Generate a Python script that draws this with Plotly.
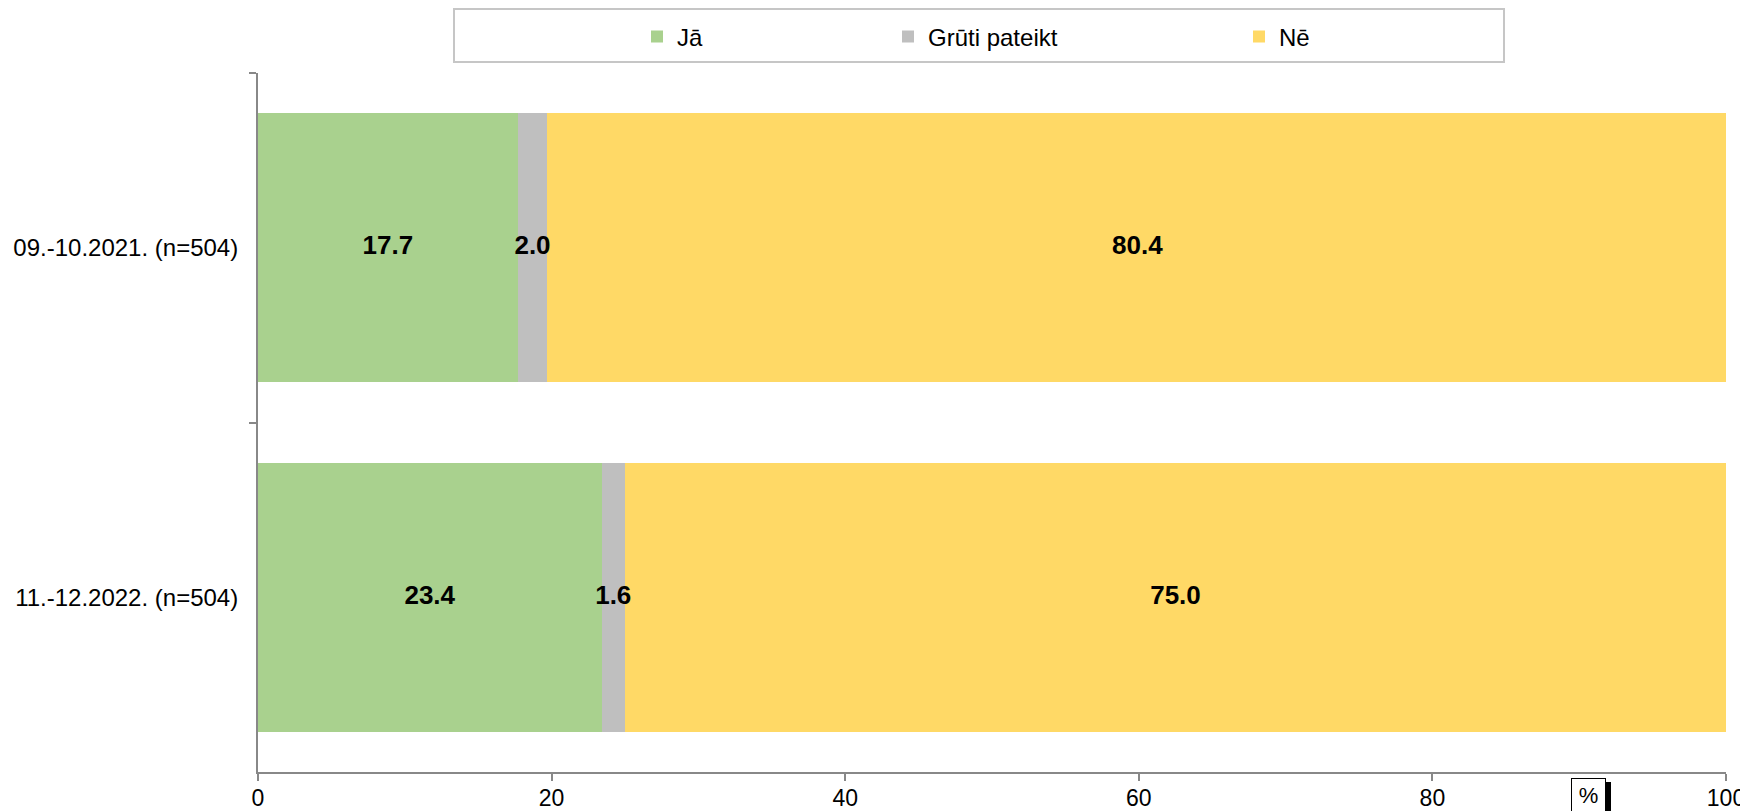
import plotly.graph_objects as go

categories = ["09.-10.2021. (n=504)", "11.-12.2022. (n=504)"]
series_names = ["Jā", "Grūti pateikt", "Nē"]
ja = [17.7, 23.4]
gruti = [2.0, 1.6]
ne = [80.4, 75.0]
x_ticks = [0, 20, 40, 60, 80, 100]
colors = ["#a9d18e", "#bfbfbf", "#ffd966"]

# The page body has an 8px margin; the figure is sized to end at the window edge.
OFF = 8
W, H = 1748 - OFF, 811 - OFF
PL, PR, PT, PB = 258, 1726, 73, 772   # plot area in window pixels
L, T = PL - OFF, PT - OFF
R = W - (PR - OFF)
B = H - (PB - OFF)
pw = PR - PL
ph = PB - PT

def px_x(p):
    return (p - PL) / pw

def px_y(p):
    return (PB - p) / ph

FONT = "Liberation Sans, Arial, sans-serif"

fig = go.Figure()
legend_names = ["legend", "legend2", "legend3"]
series_vals = [ja, gruti, ne]
for name, vals, col, lg in zip(series_names, series_vals, colors, legend_names):
    fig.add_trace(go.Bar(
        y=categories, x=vals, name=name, orientation="h",
        marker=dict(color=col, line=dict(width=0)),
        legend=lg, hoverinfo="skip", textposition="none",
    ))

# value labels drawn on top of all bars, centred in each segment
for i, vals in enumerate(series_vals):
    base = [sum(series_vals[k][j] for k in range(i)) for j in range(len(categories))]
    mids = [b + v / 2 for b, v in zip(base, vals)]
    fig.add_trace(go.Scatter(
        y=categories, x=mids, mode="text",
        text=[f"{v:.1f}" for v in vals], textposition="middle center",
        textfont=dict(family=FONT, size=26, color="black", weight="bold"),
        showlegend=False, hoverinfo="skip", cliponaxis=False,
    ))

legend_common = dict(
    orientation="h", yanchor="middle", xanchor="left",
    font=dict(family=FONT, size=24, color="black"),
    bgcolor="rgba(0,0,0,0)", borderwidth=0, itemwidth=30,
)
leg_lefts = [637, 888, 1239]
fig.update_layout(
    legend=dict(x=px_x(leg_lefts[0]), y=px_y(37), **legend_common),
    legend2=dict(x=px_x(leg_lefts[1]), y=px_y(37), **legend_common),
    legend3=dict(x=px_x(leg_lefts[2]), y=px_y(37), **legend_common),
)

fig.update_layout(
    barmode="stack", bargap=0.23,
    width=W, height=H,
    margin=dict(l=L, r=R, t=T, b=B, autoexpand=False),
    plot_bgcolor="white", paper_bgcolor="white",
    showlegend=True,
    font=dict(family=FONT, color="black"),
    xaxis=dict(
        range=[0, 100], tickvals=x_ticks, ticktext=[str(v) for v in x_ticks],
        showgrid=False, zeroline=False, showline=True, linecolor="#888888", linewidth=2,
        ticks="outside", ticklen=7, tickwidth=1.5, tickcolor="#888888",
        tickfont=dict(family=FONT, size=23, color="black"), ticklabelstandoff=-3,
    ),
    yaxis=dict(
        categoryorder="array", categoryarray=categories, autorange="reversed",
        showgrid=False, zeroline=False, showline=True, linecolor="#888888", linewidth=2,
        ticks="outside", ticklen=7, tickwidth=1.5, tickcolor="#888888", tickson="boundaries",
        tickfont=dict(family=FONT, size=24, color="black"), ticklabelstandoff=13,
    ),
)

shapes = [
    dict(type="rect", xref="paper", yref="paper",
         x0=px_x(454), x1=px_x(1504), y0=px_y(62), y1=px_y(9),
         line=dict(color="#c6c6c6", width=2), fillcolor="rgba(0,0,0,0)", layer="below"),
    dict(type="rect", xref="paper", yref="paper",
         x0=px_x(1606), x1=px_x(1611), y0=px_y(811), y1=px_y(782),
         line=dict(width=0), fillcolor="black", layer="above"),
]
fig.update_layout(shapes=shapes)

fig.add_annotation(
    xref="paper", yref="paper", x=px_x(1588.5), y=px_y(795),
    text="%", showarrow=False, xanchor="center", yanchor="middle",
    font=dict(family=FONT, size=22, color="black"),
    bordercolor="black", borderwidth=1, bgcolor="white",
    width=31, height=30,
)

fig.write_html("out.html")
